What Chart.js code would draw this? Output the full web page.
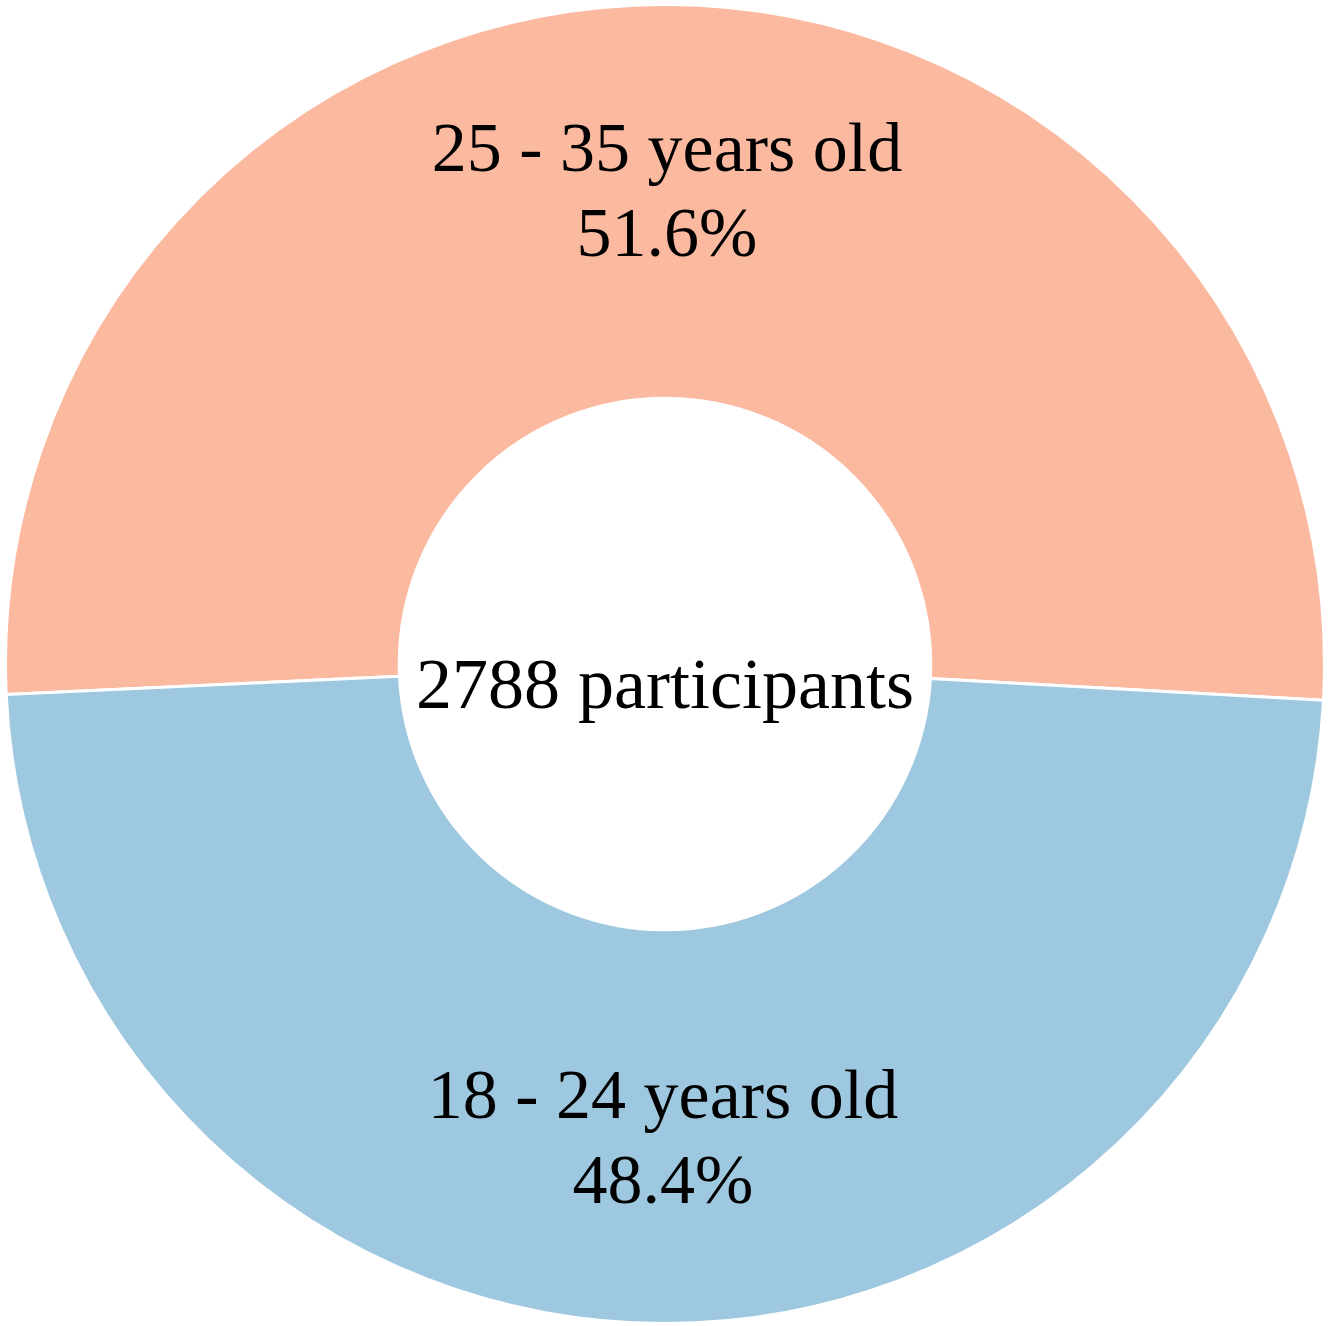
<!DOCTYPE html>
<html>
<head>
<meta charset="utf-8">
<script src="https://cdn.jsdelivr.net/npm/chart.js@4/dist/chart.umd.min.js"></script>
<style>
  html, body { margin: 0; padding: 0; background: #ffffff; }
  #wrap { width: 1335px; height: 1326px; }
</style>
</head>
<body>
<div id="wrap"><canvas id="c" width="1335" height="1326"></canvas></div>
<script>
const categories = ["25 - 35 years old", "18 - 24 years old"];
const participants = [1439, 1349];
const sliceColors = ["#FBB9A0", "#9EC8E0"];
const centerSuffix = "participants";

const total = participants.reduce((a, b) => a + b, 0);
const percentLabels = participants.map(v => (v / total * 100).toFixed(1) + "%");

const FONT = '70px "Liberation Serif", "Times New Roman", serif';
const CENTER_FONT = '72px "Liberation Serif", "Times New Roman", serif';

const labelPlugin = {
  id: 'sliceLabels',
  afterDatasetsDraw(chart) {
    const ctx = chart.ctx;
    const meta = chart.getDatasetMeta(0);
    ctx.save();
    ctx.font = FONT;
    ctx.fillStyle = '#000000';
    ctx.textAlign = 'center';
    ctx.textBaseline = 'alphabetic';
    const capHalf = 23;
    meta.data.forEach((arc, i) => {
      const p = arc.getProps(['x', 'y', 'startAngle', 'endAngle'], true);
      const mid = (p.startAngle + p.endAngle) / 2;
      const r = 474;
      const ax = p.x + r * Math.cos(mid);
      const ay = p.y + r * Math.sin(mid);
      ctx.fillText(categories[i], ax, ay - 42.5 + capHalf);
      ctx.fillText(percentLabels[i], ax, ay + 42.5 + capHalf);
    });
    const c = meta.data[0];
    ctx.font = CENTER_FONT;
    ctx.fillText(total + " " + centerSuffix, c.x, c.y + 44);
    ctx.restore();
  }
};

new Chart(document.getElementById('c'), {
  type: 'doughnut',
  data: {
    labels: categories,
    datasets: [{
      data: participants,
      backgroundColor: sliceColors,
      borderColor: '#ffffff',
      borderWidth: 3,
      hoverOffset: 0
    }]
  },
  options: {
    responsive: false,
    animation: false,
    rotation: -92.66,
    cutout: '40.3%',
    layout: { padding: { left: 4, right: 9, top: 3, bottom: 1 } },
    plugins: {
      legend: { display: false },
      tooltip: { enabled: false }
    },
    events: []
  },
  plugins: [labelPlugin]
});
</script>
</body>
</html>
